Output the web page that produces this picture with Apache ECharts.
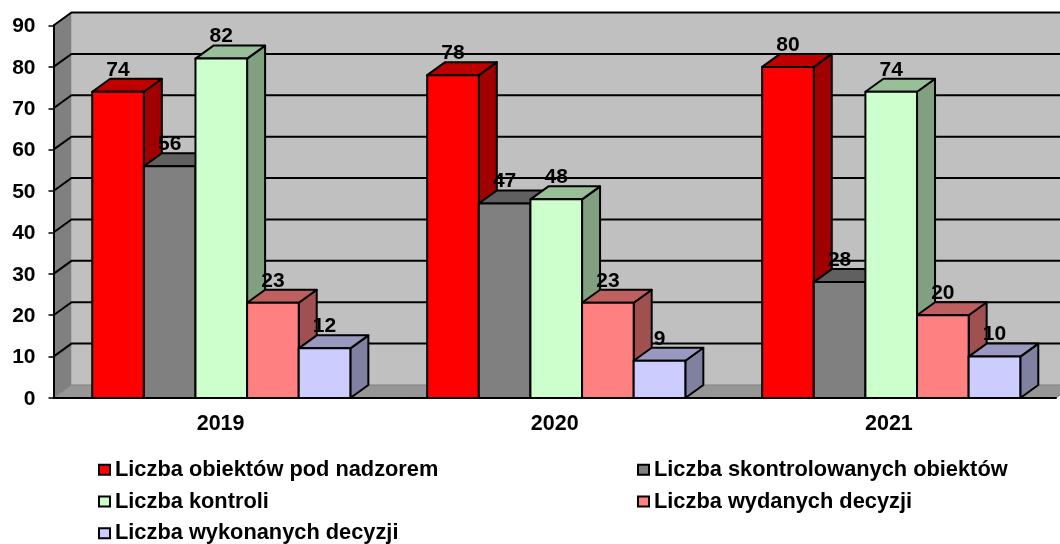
<!DOCTYPE html>
<html>
<head>
<meta charset="utf-8">
<script src="https://cdn.jsdelivr.net/npm/echarts@6/dist/echarts.min.js"></script>
<style>
    html, body { margin: 0; padding: 0; background: #fff; }
    #chart { width: 1060px; height: 544px; }
</style>
</head>
<body>
<div id="chart"></div>
<script>
var years = ['2019', '2020', '2021'];
var wallTicks = [10, 20, 30, 40, 50, 60, 70, 80, 90];

var names = [
    'Liczba obiektów pod nadzorem',
    'Liczba skontrolowanych obiektów',
    'Liczba kontroli',
    'Liczba wydanych decyzji',
    'Liczba wykonanych decyzji'
];
var obiekty = [74, 78, 80];
var skontrolowane = [56, 47, 28];
var kontrole = [82, 48, 74];
var wydane = [23, 23, 20];
var wykonane = [12, 9, 10];

var fronts = ['#FF0000', '#808080', '#CCFFCC', '#FF8080', '#CCCCFF'];
var tops = ['#BF0000', '#606060', '#99BF99', '#BF6060', '#9999BF'];
var sides = ['#A00000', '#505050', '#80A080', '#A05050', '#8080A0'];

var DX = 18, DY = 13;    // glebokosc "3D"
var BAR = 0.1545;        // szerokosc slupka jako czesc kategorii
var CAT_SHIFT = 0.8;     // slupki lekko rozjezdzaja sie wzgledem podzialki
var FONT = 'Liberation Sans';

function poly(points, fill) {
    return {
        type: 'polygon',
        shape: {points: points},
        style: {fill: fill, stroke: '#000', lineWidth: 2, lineJoin: 'round'}
    };
}

function barSeries(idx, values) {
    return {
        name: names[idx],
        type: 'custom',
        z: 3,
        itemStyle: {color: fronts[idx]},
        data: values.map(function (v, i) { return [i, v]; }),
        encode: {x: 0, y: 1},
        renderItem: function (params, api) {
            var base = api.coord([api.value(0), 0]);
            var top = api.coord([api.value(0), api.value(1)]);
            var w = api.size([1, 0])[0] * BAR;
            var x0 = base[0] + 0.7 + api.value(0) * CAT_SHIFT - 2.5 * w + idx * w;
            var x1 = x0 + w;
            return {
                type: 'group',
                children: [
                    poly([[x1, top[1]], [x1 + DX, top[1] - DY], [x1 + DX, base[1] - DY], [x1, base[1]]], sides[idx]),
                    poly([[x0, top[1]], [x1, top[1]], [x1 + DX, top[1] - DY], [x0 + DX, top[1] - DY]], tops[idx]),
                    poly([[x0, top[1]], [x1, top[1]], [x1, base[1]], [x0, base[1]]], fronts[idx]),
                    {
                        type: 'text',
                        z2: 100,
                        style: {
                            text: String(api.value(1)),
                            x: (x0 + x1) / 2,
                            y: top[1] - 22,
                            align: 'center',
                            verticalAlign: 'middle',
                            font: 'bold 21px "' + FONT + '"',
                            fill: '#000'
                        }
                    }
                ]
            };
        }
    };
}

var wallSeries = {
    type: 'custom',
    z: 1,
    silent: true,
    legendHoverLink: false,
    data: [[0, 0]],
    encode: {x: 0, y: 1},
    renderItem: function (params, api) {
        var g = params.coordSys;
        var left = g.x, right = g.x + g.width;
        var y0 = api.coord([0, 0])[1], yTop = api.coord([0, 90])[1];
        var kids = [
            {
                type: 'polygon',
                shape: {points: [[left + DX, yTop - DY], [right + DX, yTop - DY], [right + DX, y0 - DY], [left + DX, y0 - DY]]},
                style: {fill: '#C0C0C0'}
            },
            {
                type: 'polygon',
                shape: {points: [[left, yTop], [left + DX, yTop - DY], [left + DX, y0 - DY], [left, y0]]},
                style: {fill: '#808080'}
            },
            {
                type: 'polygon',
                shape: {points: [[left, y0], [right, y0], [right + DX, y0 - DY], [left + DX, y0 - DY]]},
                style: {fill: '#969696', stroke: '#808080', lineWidth: 1}
            }
        ];
        wallTicks.forEach(function (t) {
            var y = api.coord([0, t])[1];
            kids.push({
                type: 'polyline',
                shape: {points: [[left, y], [left + DX, y - DY], [right + DX, y - DY]]},
                style: {fill: null, stroke: '#000', lineWidth: 2}
            });
        });
        return {type: 'group', children: kids};
    }
};

function legend(left, data) {
    return {
        orient: 'vertical',
        left: left,
        top: 458.7,
        height: 120,
        data: data,
        icon: 'rect',
        itemWidth: 11,
        itemHeight: 10,
        itemGap: 9.8,
        padding: 0,
        selectedMode: false,
        itemStyle: {borderColor: '#000', borderWidth: 2},
        textStyle: {color: '#000', fontFamily: FONT, fontWeight: 'bold', fontSize: 21.8, lineHeight: 22}
    };
}

var chart = echarts.init(document.getElementById('chart'));

chart.setOption({
    animation: false,
    backgroundColor: '#fff',
    grid: {left: 53.5, right: 4, top: 25.5, bottom: 146},
    legend: [
        legend(98, [names[0], names[2], names[4]]),
        legend(637, [names[1], names[3]])
    ],
    xAxis: {
        type: 'category',
        data: years,
        z: 10,
        axisLine: {lineStyle: {color: '#000', width: 2}},
        axisTick: {length: 5, lineStyle: {color: '#000', width: 1}},
        axisLabel: {color: '#000', fontFamily: FONT, fontWeight: 'bold', fontSize: 21.5, margin: 15}
    },
    yAxis: {
        type: 'value',
        min: 0,
        max: 90,
        interval: 10,
        z: 10,
        splitLine: {show: false},
        axisLine: {show: true, lineStyle: {color: '#000', width: 2}},
        axisTick: {show: true, length: 5, lineStyle: {color: '#000', width: 1.5}},
        axisLabel: {color: '#000', fontFamily: FONT, fontWeight: 'bold', fontSize: 21, margin: 18, verticalAlign: 'top', lineHeight: 2}
    },
    series: [
        wallSeries,
        barSeries(0, obiekty),
        barSeries(1, skontrolowane),
        barSeries(2, kontrole),
        barSeries(3, wydane),
        barSeries(4, wykonane)
    ]
});
</script>
</body>
</html>
